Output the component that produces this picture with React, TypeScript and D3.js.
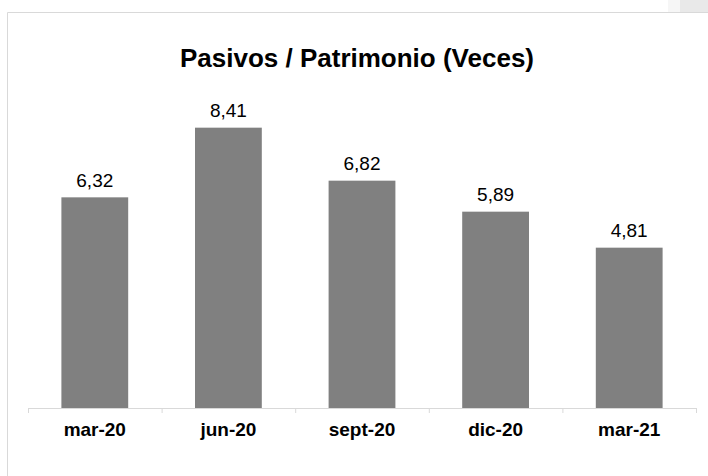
import React from "react";
import * as d3 from "d3";

const categories = ["mar-20", "jun-20", "sept-20", "dic-20", "mar-21"];
const values = [6.32, 8.41, 6.82, 5.89, 4.81];
const valueLabels = ["6,32", "8,41", "6,82", "5,89", "4,81"];
const title = "Pasivos / Patrimonio (Veces)";

const W = 708;
const H = 476;

export default function App() {
  const x = d3.scaleBand<string>().domain(categories).range([28, 696]).paddingInner(0).paddingOuter(0);
  const y = d3.scaleLinear().domain([0, 9]).range([408, 108]);
  const bw = x.bandwidth();
  const barW = bw * 0.5;
  const ticks = [...categories.map((c) => x(c) as number), 696];

  return (
    <svg
      width={W}
      height={H}
      style={{ position: "absolute", left: 0, top: 0, background: "#fff" }}
      fontFamily="Arial, 'Liberation Sans', sans-serif"
    >
      <rect x={0} y={0} width={W} height={H} fill="#fff" />
      {/* chart border */}
      <line x1={7.5} y1={12.5} x2={7.5} y2={H} stroke="#d9d9d9" strokeWidth={1} />
      <line x1={7.5} y1={12.5} x2={W} y2={12.5} stroke="#d9d9d9" strokeWidth={1} />
      <rect x={668} y={0} width={12} height={12} fill="#f6f6f6" />
      <rect x={680} y={0} width={28} height={12} fill="#e9e9e9" />

      <text x={357} y={67} textAnchor="middle" fontSize={26} fontWeight="bold" fill="#000">
        {title}
      </text>

      {categories.map((c, i) => {
        const cx = (x(c) as number) + bw / 2;
        return (
          <g key={c}>
            <rect x={cx - barW / 2} y={y(values[i])} width={barW} height={y(0) - y(values[i])} fill="#808080" />
            <text x={cx} y={y(values[i]) - 10.5} textAnchor="middle" fontSize={19} fill="#000">
              {valueLabels[i]}
            </text>
            <text x={cx} y={436} textAnchor="middle" fontSize={19} fontWeight="bold" fill="#000">
              {c}
            </text>
          </g>
        );
      })}

      <line x1={28} x2={696} y1={408.5} y2={408.5} stroke="#d9d9d9" strokeWidth={1} />
      {ticks.map((t, i) => (
        <line key={i} x1={t + 0.5} x2={t + 0.5} y1={408} y2={413} stroke="#d9d9d9" strokeWidth={1} />
      ))}
    </svg>
  );
}
